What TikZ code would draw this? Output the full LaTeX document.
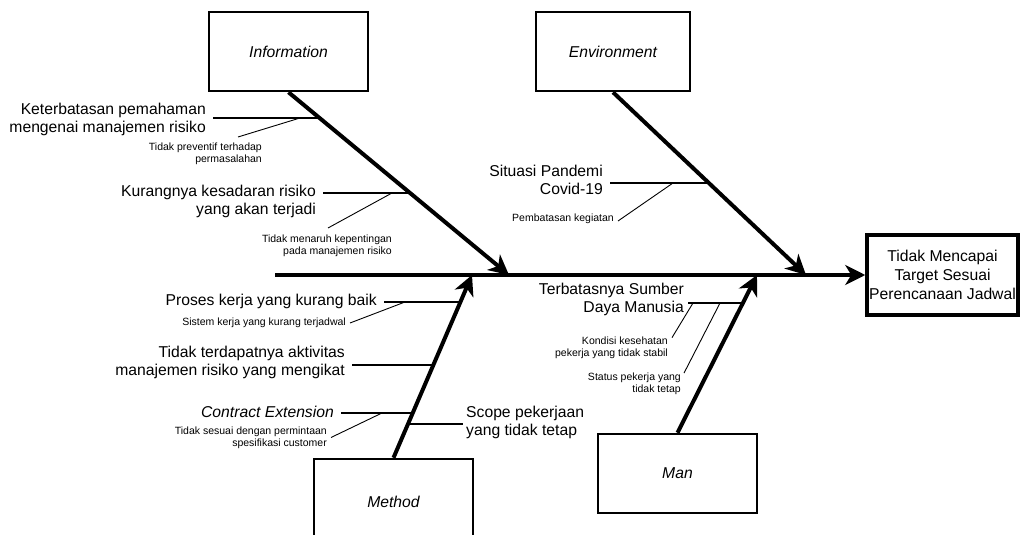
\documentclass[tikz,border=0pt]{standalone}
\usepackage{fontspec}
\setmainfont{Liberation Sans}
\usetikzlibrary{arrows.meta}
\tikzset{
  catbox/.style={draw,line width=2.5pt,minimum width=159pt,minimum height=79pt,inner sep=0pt,font=\fontsize{15.7}{18}\selectfont\itshape},
  goalbox/.style={draw,line width=3.5pt,minimum width=151pt,minimum height=80pt,inner sep=0pt,align=center,font=\fontsize{15.7}{19}\selectfont},
  cause/.style={inner xsep=7pt,inner ysep=1pt,font=\fontsize{15.7}{18}\selectfont},
  subcause/.style={align=right,inner sep=1pt,font=\fontsize{10.5}{11.6}\selectfont},
  bone/.style={line width=4pt,-{Stealth[length=20pt,width=20pt,inset=6pt]}},
  rib/.style={line width=2.6pt},
  twig/.style={line width=.9pt},
}
\begin{document}
\begin{tikzpicture}[x=1pt,y=-1pt]
  \useasboundingbox (0,0) rectangle (1020,535);
  % category boxes and effect
  \node[catbox] (info) at (288.5,51.5) {Information};
  \node[catbox,minimum width=154pt] (env) at (613,51.5) {Environment};
  \node[catbox,minimum height=86pt] (meth) at (393.5,502) {Method};
  \node[catbox] (man) at (677.5,473.5) {Man};
  \node[goalbox] (goal) at (942.5,275) {Tidak Mencapai\\Target Sesuai\\Perencanaan Jadwal};
  % spine and bones
  \coordinate (tail) at (275,275);
  \coordinate (itip) at (509,275);
  \coordinate (etip) at (806,275);
  \coordinate (mtip) at (472,275);
  \coordinate (ntip) at (757,275);
  \draw[bone] (tail) -- (goal.west);
  \draw[bone] (info.south) -- (itip);
  \draw[bone] (env.south) -- (etip);
  \draw[bone] (meth.north) -- (mtip);
  \draw[bone] (man.north) -- (ntip);
  % Information
  \coordinate (i1) at (321,118);
  \coordinate (i2) at (411,193);
  \node[cause,align=right,anchor=east] (ket) at (213,119) {Keterbatasan pemahaman\\mengenai manajemen risiko};
  \node[cause,align=right,anchor=east] (kur) at (323,201) {Kurangnya kesadaran risiko\\yang akan terjadi};
  \draw[rib] (ket.east |- i1) -- (i1);
  \draw[rib] (kur.east |- i2) -- (i2);
  \node[subcause,anchor=east] (prev) at (263,154) {Tidak preventif terhadap\\permasalahan};
  \node[subcause,anchor=east] (naruh) at (393,246) {Tidak menaruh kepentingan\\pada manajemen risiko};
  \coordinate (prevend) at (238,137);
  \coordinate (naruhend) at (328,228);
  \draw[twig] (300,118) -- (prevend);
  \draw[twig] (392,193) -- (naruhend);
  % Environment
  \coordinate (e1) at (709.5,183);
  \node[cause,align=right,anchor=east] (pand) at (610,180) {Situasi Pandemi\\Covid-19};
  \draw[rib] (pand.east |- e1) -- (e1);
  \node[subcause,anchor=east] (batas) at (615,219) {Pembatasan kegiatan};
  \draw[twig] (673,183) -- ([xshift=3pt,yshift=-2pt]batas.east);
  % Method
  \coordinate (m1) at (460,302);
  \coordinate (m2) at (433.5,365);
  \coordinate (m3) at (413,413);
  \coordinate (m4) at (408.5,424);
  \node[cause,anchor=east] (pros) at (384,301) {Proses kerja yang kurang baik};
  \node[cause,align=right,anchor=east] (aktv) at (352,362.5) {Tidak terdapatnya aktivitas\\manajemen risiko yang mengikat};
  \node[cause,anchor=east,font=\fontsize{15.7}{18}\selectfont\itshape] (ctr) at (341,412) {Contract Extension};
  \node[cause,align=left,anchor=west,inner xsep=3pt] (scope) at (463,422) {Scope pekerjaan\\yang tidak tetap};
  \draw[rib] (pros.east |- m1) -- (m1);
  \draw[rib] (aktv.east |- m2) -- (m2);
  \draw[rib] (ctr.east |- m3) -- (m3);
  \draw[rib] (m4) -- (scope.west |- m4);
  \node[subcause,anchor=east] (sis) at (347,323) {Sistem kerja yang kurang terjadwal};
  \node[subcause,anchor=east] (sesuai) at (328,437.5) {Tidak sesuai dengan permintaan\\spesifikasi customer};
  \draw[twig] (405,302) -- ([xshift=3pt]sis.east);
  \draw[twig] (382,413) -- ([xshift=3pt]sesuai.east);
  % Man
  \coordinate (n1) at (743,303);
  \node[cause,align=right,anchor=east,inner xsep=4pt] (sdm) at (688,299) {Terbatasnya Sumber\\Daya Manusia};
  \draw[rib] (sdm.east |- n1) -- (n1);
  \node[subcause,anchor=east] (kond) at (669,347.5) {Kondisi kesehatan\\pekerja yang tidak stabil};
  \node[subcause,anchor=east] (stat) at (682,384) {Status pekerja yang\\tidak tetap};
  \draw[twig] (693,303) -- ([xshift=3pt,yshift=-2pt]kond.north east);
  \draw[twig] (720,303) -- ([xshift=2pt,yshift=-1pt]stat.north east);
\end{tikzpicture}
\end{document}
